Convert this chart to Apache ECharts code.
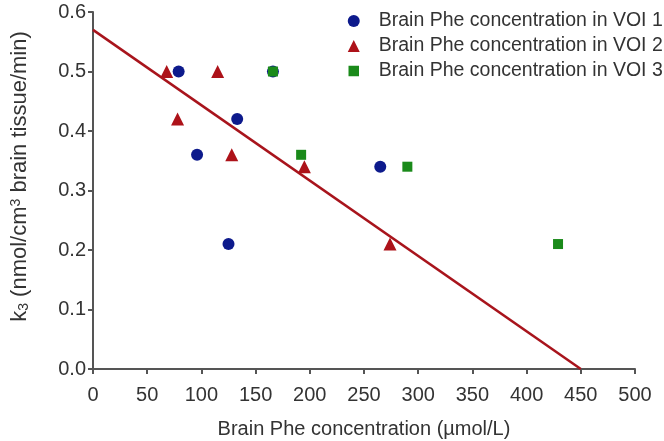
<!DOCTYPE html>
<html>
<head>
<meta charset="utf-8">
<script src="https://cdn.jsdelivr.net/npm/echarts@6/dist/echarts.min.js"></script>
<style>html,body{margin:0;padding:0;background:#fff;}#c{width:664px;height:441px;}</style>
</head>
<body>
<div id="c"></div>
<script>
var voi1 = [[79, 0.50], [96, 0.36], [133, 0.42], [125, 0.21], [166, 0.50], [265, 0.34]];
var voi2 = [[68, 0.50], [78, 0.42], [115, 0.50], [128, 0.36], [195, 0.34], [274, 0.21]];
var voi3 = [[166, 0.50], [192, 0.36], [290, 0.34], [429, 0.21]];
var fitLine = [[0, 0.57], [450, 0]];
var names = ['Brain Phe concentration in VOI 1', 'Brain Phe concentration in VOI 2', 'Brain Phe concentration in VOI 3'];

var chart = echarts.init(document.getElementById('c'));
var axisCol = '#555';
var txtCol = '#333';
var ff = 'Liberation Sans, Arial';
chart.setOption({
  animation: false,
  grid: {left: 93, right: 29, top: 12, bottom: 72, containLabel: false, outerBoundsMode: 'none'},
  legend: {
    orient: 'vertical', left: 342, top: 6, itemGap: 5, itemWidth: 12, itemHeight: 12,
    textStyle: {fontSize: 19.5, color: txtCol, fontFamily: ff, padding: [0, 0, 0, 14]},
    data: [{name: names[0], icon: 'circle'}, {name: names[1], icon: 'triangle'},
           {name: names[2], icon: 'rect', itemStyle: {borderWidth: 1.5, borderColor: '#fff'}}]
  },
  xAxis: {
    type: 'value', min: 0, max: 500, interval: 50,
    name: 'Brain Phe concentration (\u00b5mol/L)', nameLocation: 'middle', nameGap: 50,
    nameTextStyle: {fontSize: 20, color: txtCol, fontFamily: ff},
    axisLine: {lineStyle: {color: axisCol, width: 2}},
    axisTick: {show: true, length: 5, lineStyle: {color: axisCol, width: 2}},
    axisLabel: {fontSize: 20, color: txtCol, margin: 16, fontFamily: ff},
    splitLine: {show: false}
  },
  yAxis: {
    type: 'value', min: 0, max: 0.6, interval: 0.1,
    name: '{n|k}{s|3}{n| (nmol/cm}{p|3}{n| brain tissue/min)}', nameLocation: 'middle', nameGap: 62, nameRotate: 90,
    nameTextStyle: {
      color: txtCol, fontFamily: ff, padding: [0, 0, 0, 28],
      rich: {
        n: {fontSize: 22, color: txtCol, fontFamily: ff},
        s: {fontSize: 14, color: txtCol, verticalAlign: 'bottom', padding: [8, 0, 0, 0], fontFamily: ff},
        p: {fontSize: 14, color: txtCol, verticalAlign: 'top', padding: [0, 0, 8, 0], fontFamily: ff}
      }
    },
    axisLine: {show: true, lineStyle: {color: axisCol, width: 2}},
    axisTick: {show: true, length: 5, lineStyle: {color: axisCol, width: 2}},
    axisLabel: {fontSize: 20, color: txtCol, margin: 7, fontFamily: ff,
      formatter: function (v) { return v.toFixed(1); }},
    splitLine: {show: false}
  },
  series: [
    {name: 'fit', type: 'line', data: fitLine, showSymbol: false, symbol: 'none',
      lineStyle: {color: '#a8141c', width: 2.5}, z: 1, silent: true},
    {name: names[0], type: 'scatter', data: voi1, symbol: 'circle', symbolSize: 12,
      itemStyle: {color: '#0d1a8c', opacity: 1}, z: 3},
    {name: names[1], type: 'scatter', data: voi2, symbol: 'triangle', symbolSize: 13,
      itemStyle: {color: '#ad1219', opacity: 1}, z: 3},
    {name: names[2], type: 'scatter', data: voi3, symbol: 'rect', symbolSize: 10,
      itemStyle: {color: '#1a8a1a', opacity: 1}, z: 4}
  ]
});
</script>
</body>
</html>
